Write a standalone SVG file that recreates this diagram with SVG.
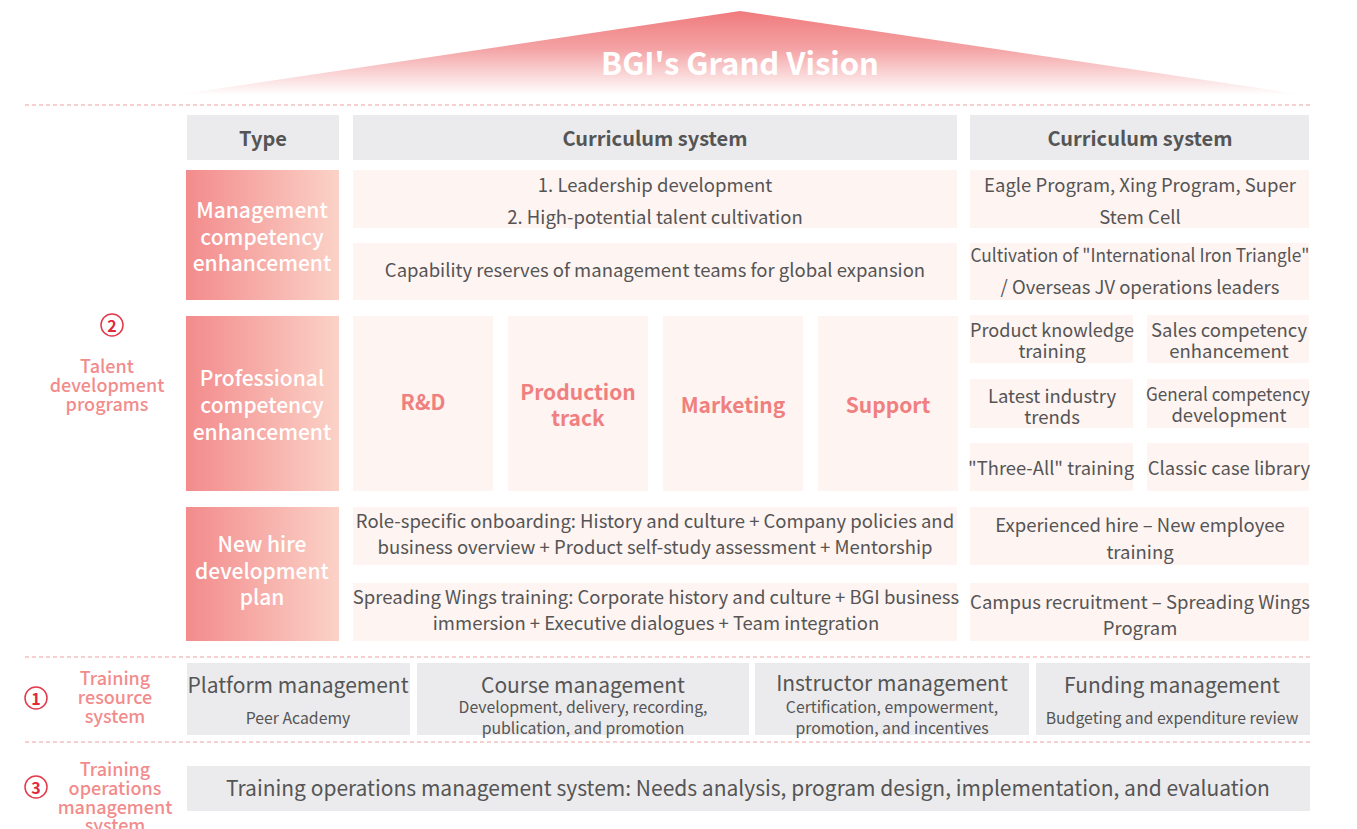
<svg xmlns="http://www.w3.org/2000/svg" width="1357" height="829" viewBox="0 0 1357 829">
<defs>
<linearGradient id="roof" x1="0" y1="0" x2="0" y2="1">
<stop offset="0" stop-color="#f07a7c"/>
<stop offset="0.45" stop-color="#f4a3a5"/>
<stop offset="1" stop-color="#ffffff"/>
</linearGradient>
<linearGradient id="side" x1="0" y1="0" x2="1" y2="0">
<stop offset="0" stop-color="#f38b8c"/>
<stop offset="1" stop-color="#fbd2c7"/>
</linearGradient>
</defs>
<style>
text{font-family:"Noto Sans CJK SC","Noto Sans",sans-serif;text-anchor:middle;dominant-baseline:central}
.g{fill:#ebebed}
.p{fill:#fef4f2}
.s{fill:url(#side)}
.hd{font-size:20px;font-weight:700;fill:#555}
.t{font-size:18.5px;fill:#555}
.ts{font-size:15.8px;fill:#555}
.tm{font-size:21px;fill:#555}
.w{font-size:21px;fill:#fff;font-weight:500}
.cat{font-size:21px;fill:#f0807f;font-weight:700}
.lab{font-size:18px;fill:#f28c8c;font-weight:500}
.dash{stroke:#f2a0a0;stroke-width:1.2;stroke-dasharray:4 3;fill:none}
.circ{fill:none;stroke:#e23a4a;stroke-width:1.5}
.num{font-size:16px;font-weight:700;fill:#e02a3c}
</style>
<g id="vision">
<polygon points="740,11 1305,95 175,95" fill="url(#roof)"/>
<text x="740" y="61" style="font-size:31px;font-weight:700;fill:#fff">BGI's Grand Vision</text>
</g>
<g id="dividers">
<line class="dash" x1="25" y1="105" x2="1311" y2="105"/>
<line class="dash" x1="25" y1="657" x2="1311" y2="657"/>
<line class="dash" x1="25" y1="742" x2="1311" y2="742"/>
</g>
<g id="header">
<rect class="g" x="187" y="115" width="152" height="45"/>
<text class="hd" x="263" y="137">Type</text>
<rect class="g" x="353" y="115" width="604" height="45"/>
<text class="hd" x="655" y="137">Curriculum system</text>
<rect class="g" x="970" y="115" width="339" height="45"/>
<text class="hd" x="1140" y="137">Curriculum system</text>
</g>
<g id="label-talent">
<circle class="circ" cx="112" cy="325" r="11"/>
<text class="num" x="112" y="325">2</text>
<text class="lab" x="107" y="365">Talent</text>
<text class="lab" x="107" y="384">development</text>
<text class="lab" x="107" y="403">programs</text>
</g>
<g id="management">
<rect class="s" x="186" y="170" width="153" height="130"/>
<text class="w" x="262" y="209">Management</text>
<text class="w" x="262" y="236">competency</text>
<text class="w" x="262" y="262">enhancement</text>
<rect class="p" x="353" y="170" width="604" height="58"/>
<text class="t" x="655" y="184">1. Leadership development</text>
<text class="t" x="655" y="216">2. High-potential talent cultivation</text>
<rect class="p" x="353" y="243" width="604" height="57"/>
<text class="t" x="655" y="269">Capability reserves of management teams for global expansion</text>
<rect class="p" x="970" y="170" width="339" height="58"/>
<text class="t" x="1140" y="184">Eagle Program, Xing Program, Super</text>
<text class="t" x="1140" y="216">Stem Cell</text>
<rect class="p" x="970" y="243" width="339" height="57"/>
<text class="t" x="1140" y="254" textLength="339" lengthAdjust="spacingAndGlyphs">Cultivation of "International Iron Triangle"</text>
<text class="t" x="1140" y="286">/ Overseas JV operations leaders</text>
</g>
<g id="professional">
<rect class="s" x="186" y="316" width="153" height="175"/>
<text class="w" x="262" y="377">Professional</text>
<text class="w" x="262" y="404">competency</text>
<text class="w" x="262" y="431">enhancement</text>
<rect class="p" x="353" y="316" width="140" height="175"/>
<text class="cat" x="423" y="401">R&amp;D</text>
<rect class="p" x="508" y="316" width="140" height="175"/>
<text class="cat" x="578" y="391">Production</text>
<text class="cat" x="578" y="417">track</text>
<rect class="p" x="663" y="316" width="140" height="175"/>
<text class="cat" x="733" y="404">Marketing</text>
<rect class="p" x="818" y="316" width="140" height="175"/>
<text class="cat" x="888" y="404">Support</text>
<rect class="p" x="970" y="315" width="163" height="48"/>
<text class="t" x="1052" y="329" textLength="164" lengthAdjust="spacingAndGlyphs">Product knowledge</text>
<text class="t" x="1052" y="350">training</text>
<rect class="p" x="1147" y="315" width="162" height="48"/>
<text class="t" x="1229" y="329">Sales competency</text>
<text class="t" x="1229" y="350">enhancement</text>
<rect class="p" x="970" y="379" width="163" height="49"/>
<text class="t" x="1052" y="395">Latest industry</text>
<text class="t" x="1052" y="416">trends</text>
<rect class="p" x="1147" y="379" width="162" height="49"/>
<text class="t" x="1228" y="393" textLength="164" lengthAdjust="spacingAndGlyphs">General competency</text>
<text class="t" x="1229" y="414">development</text>
<rect class="p" x="970" y="443" width="163" height="48"/>
<text class="t" x="1051" y="467" textLength="166" lengthAdjust="spacingAndGlyphs">"Three-All" training</text>
<rect class="p" x="1147" y="443" width="162" height="48"/>
<text class="t" x="1229" y="467">Classic case library</text>
</g>
<g id="newhire">
<rect class="s" x="186" y="507" width="153" height="134"/>
<text class="w" x="262" y="543">New hire</text>
<text class="w" x="262" y="570">development</text>
<text class="w" x="262" y="596">plan</text>
<rect class="p" x="353" y="507" width="604" height="58"/>
<text class="t" x="655" y="520">Role-specific onboarding: History and culture + Company policies and</text>
<text class="t" x="655" y="546">business overview + Product self-study assessment + Mentorship</text>
<rect class="p" x="353" y="583" width="604" height="58"/>
<text class="t" x="656" y="596">Spreading Wings training: Corporate history and culture + BGI business</text>
<text class="t" x="656" y="622">immersion + Executive dialogues + Team integration</text>
<rect class="p" x="970" y="507" width="339" height="58"/>
<text class="t" x="1140" y="524">Experienced hire – New employee</text>
<text class="t" x="1140" y="551">training</text>
<rect class="p" x="970" y="583" width="339" height="58"/>
<text class="t" x="1140" y="601">Campus recruitment – Spreading Wings</text>
<text class="t" x="1140" y="627">Program</text>
</g>
<g id="label-resource">
<circle class="circ" cx="36" cy="698" r="11"/>
<text class="num" x="36" y="698">1</text>
<text class="lab" x="115" y="677">Training</text>
<text class="lab" x="115" y="696">resource</text>
<text class="lab" x="115" y="715">system</text>
</g>
<g id="resource">
<rect class="g" x="187" y="663" width="223" height="72"/>
<text class="tm" x="298" y="684">Platform management</text>
<text class="ts" x="298" y="717">Peer Academy</text>
<rect class="g" x="417" y="663" width="332" height="72"/>
<text class="tm" x="583" y="684">Course management</text>
<text class="ts" x="583" y="706">Development, delivery, recording,</text>
<text class="ts" x="583" y="727">publication, and promotion</text>
<rect class="g" x="755" y="663" width="274" height="72"/>
<text class="tm" x="892" y="682">Instructor management</text>
<text class="ts" x="892" y="706">Certification, empowerment,</text>
<text class="ts" x="892" y="727">promotion, and incentives</text>
<rect class="g" x="1036" y="663" width="274" height="72"/>
<text class="tm" x="1172" y="684">Funding management</text>
<text class="ts" x="1172" y="717">Budgeting and expenditure review</text>
</g>
<g id="label-operations">
<circle class="circ" cx="36" cy="787" r="11"/>
<text class="num" x="36" y="787">3</text>
<text class="lab" x="115" y="768">Training</text>
<text class="lab" x="115" y="787">operations</text>
<text class="lab" x="115" y="806">management</text>
<text class="lab" x="115" y="824">system</text>
</g>
<g id="operations">
<rect class="g" x="187" y="766" width="1123" height="45"/>
<text class="tm" x="748" y="787">Training operations management system: Needs analysis, program design, implementation, and evaluation</text>
</g>
<g id="connectors"/>
</svg>
